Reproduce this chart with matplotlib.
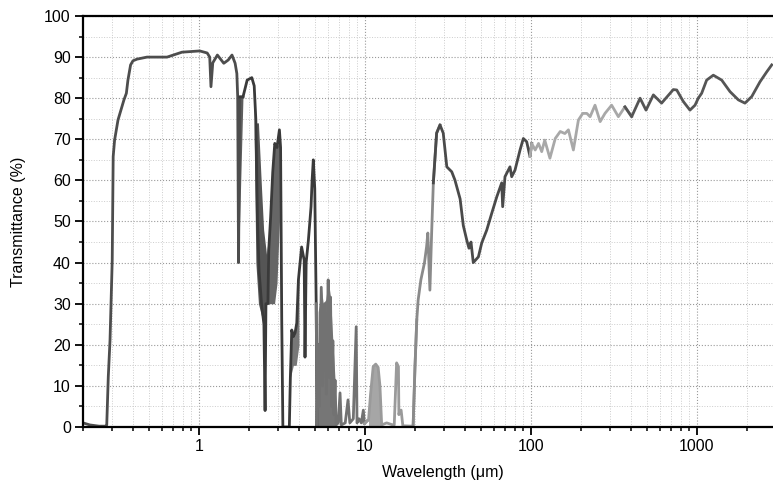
#!/usr/bin/env python3

import numpy as np
import matplotlib
matplotlib.use('Agg')
import matplotlib.pyplot as plt
from matplotlib.ticker import FixedLocator, LogLocator, MultipleLocator, NullFormatter

plt.rcParams['font.family'] = ['Liberation Sans', 'DejaVu Sans']

wavelength = [
    0.200, 0.220, 0.250, 0.275, 0.278, 0.284, 0.291, 0.300, 0.304, 0.310,
    0.325, 0.353, 0.365, 0.373, 0.387, 0.400, 0.423, 0.486, 0.642, 0.790,
    1.01, 1.12, 1.16, 1.18, 1.21, 1.29, 1.41, 1.50, 1.58, 1.65,
    1.69, 1.71, 1.73, 1.76, 1.84, 1.95, 2.08, 2.15, 2.20, 2.25,
    2.30, 2.38, 2.46, 2.50, 2.53, 2.60, 2.63, 2.70, 2.78, 2.86,
    2.95, 3.05, 3.10, 3.15, 3.20, 3.50, 3.55, 3.62, 3.70, 3.79,
    3.88, 3.97, 4.15, 4.30, 4.35, 4.42, 4.56, 4.73, 4.80, 4.88,
    4.98, 5.08, 5.14, 5.22, 5.30, 5.45, 5.55, 5.70, 5.85, 6.00,
    6.10, 6.20, 6.30, 6.40, 6.50, 6.60, 6.70, 6.90, 7.07, 7.20,
    7.60, 7.90, 8.10, 8.50, 8.85, 8.95, 9.20, 9.50, 9.77, 9.90,
    10.3, 10.5, 10.8, 11.2, 11.6, 12.0, 12.3, 12.6, 13.5, 14.7,
    15.0, 15.5, 15.9, 16.0, 16.2, 16.5, 16.9, 19.2, 19.5, 20.0,
    20.5, 20.9, 21.7, 22.8, 23.5, 23.9, 24.6, 25.2, 25.8, 27.0,
    28.3, 29.6, 31.1, 33.3, 34.8, 37.4, 39.1, 41.0, 42.3, 43.5,
    44.9, 48.2, 50.5, 54.1, 58.0, 62.2, 66.6, 67.5, 69.7, 74.7,
    76.5, 80.1, 85.9, 89.9, 94.2, 98.6, 101, 106, 111, 116,
    121, 130, 140, 150, 160, 168, 180, 193, 205, 217,
    227, 243, 261, 279, 306, 336, 368, 404, 454, 493,
    546, 612, 720, 755, 827, 907, 973, 1018, 1067, 1143,
    1254, 1409, 1581, 1774, 1945, 2137, 2397, 2630, 2820,
]
transmittance = [
    1.0, 0.5, 0.2, 0.2, 0.5, 12.2, 21.2, 40.6, 65.8, 69.8,
    74.7, 79.6, 81.2, 84.4, 88.1, 89.1, 89.5, 90.0, 90.0, 91.2,
    91.5, 91.0, 90.0, 82.8, 88.6, 90.5, 88.5, 89.3, 90.5, 88.5,
    86.0, 80.3, 40.0, 80.3, 80.3, 84.4, 85.0, 83.0, 74.7, 50.0,
    38.0, 30.0, 25.0, 4.0, 30.0, 30.0, 43.0, 51.0, 62.0, 69.0,
    68.0, 72.3, 68.0, 26.0, 0.0, 0.0, 12.0, 23.6, 22.0, 22.9,
    25.3, 35.8, 43.8, 40.6, 17.0, 40.0, 45.5, 53.6, 60.0, 65.0,
    58.0, 30.0, 0.0, 20.0, 5.0, 34.0, 10.0, 30.0, 8.0, 35.8,
    12.0, 31.6, 5.0, 21.0, 3.0, 11.4, 0.5, 1.0, 8.3, 0.5,
    1.0, 6.6, 1.0, 2.0, 24.4, 1.0, 2.0, 1.0, 4.1, 0.8,
    1.5, 1.7, 8.0, 14.7, 15.3, 14.5, 10.0, 0.5, 1.0, 0.5,
    0.5, 15.6, 14.7, 3.0, 4.0, 4.1, 0.3, 0.2, 0.5, 14.6,
    26.0, 30.9, 35.8, 39.9, 43.9, 47.2, 33.3, 47.2, 59.4, 71.5,
    73.5, 71.5, 63.3, 62.1, 60.1, 55.5, 49.0, 45.5, 43.5, 45.0,
    40.0, 41.4, 44.8, 47.9, 52.0, 56.0, 59.4, 53.6, 60.9, 63.3,
    60.9, 62.5, 67.4, 70.2, 69.4, 65.8, 69.0, 67.4, 69.0, 67.0,
    69.8, 65.4, 70.2, 71.9, 71.4, 72.3, 67.4, 74.7, 76.3, 76.3,
    75.5, 78.3, 74.3, 76.3, 78.3, 75.5, 77.9, 75.5, 80.0, 77.1,
    80.8, 78.8, 82.1, 82.0, 79.2, 77.1, 78.3, 80.0, 81.2, 84.4,
    85.6, 84.4, 81.6, 79.6, 78.8, 80.4, 84.0, 86.4, 88.1,
]

# bands where the trace oscillates too densely to resolve: (wl, low, high)
band_wl = [
    [1.69, 1.73, 1.84],
    [2.15, 2.20, 2.28, 2.38, 2.45, 2.55],
    [2.55, 2.65, 2.75, 2.85, 2.95, 3.05],
    [3.55, 3.70, 3.85, 4.00],
    [5.14, 5.22, 5.35, 5.45, 5.60, 5.80, 6.00, 6.20, 6.40, 6.60, 6.70],
    [10.5, 10.8, 11.2, 11.6, 12.0, 12.3, 12.6],
]
band_low = [
    [80.3, 40.0, 80.3],
    [70, 40, 30, 27, 25, 30],
    [30, 30, 30, 30, 35, 50],
    [12, 15, 15, 20],
    [0] * 11,
    [0] * 7,
]
band_high = [
    [80.3, 80.3, 80.3],
    [80, 74, 74, 58, 48, 42],
    [42, 48, 60, 68, 68, 70],
    [23.6, 22, 25, 38],
    [0, 28, 31, 34, 30, 31, 35.8, 31.6, 21, 11.4, 0],
    [1.7, 8, 14.7, 15.3, 14.5, 10, 0.5],
]
band_colors = ['#5e5e5e', '#555555', '#666666', '#777777', '#767676', '#a6a6a6']

# grey level of the scanned trace changes along the spectrum
segments = [(0.2, 1.8), (1.8, 5.14), (5.14, 10), (10, 20), (20, 27), (27, 100), (100, 400), (400, 3000)]
seg_colors = ['#4d4d4d', '#3a3a3a', '#727272', '#9a9a9a', '#8a8a8a', '#4a4a4a', '#a8a8a8', '#555555']

wl = np.array(wavelength)
tr = np.array(transmittance)

fig = plt.figure(figsize=(7.73, 4.97), dpi=100)
ax = fig.add_axes([83 / 773, 1 - 427 / 497, 690 / 773, 411 / 497])

for bw, bl, bh, c in zip(band_wl, band_low, band_high, band_colors):
    ax.fill_between(bw, bl, bh, color=c, lw=0)

for (lo, hi), c in zip(segments, seg_colors):
    idx = np.where((wl >= lo) & (wl <= hi))[0]
    i0 = max(idx[0] - 1, 0)
    i1 = min(idx[-1] + 2, len(wl))
    ax.plot(wl[i0:i1], tr[i0:i1], color=c, lw=2.0, solid_joinstyle='round')

ax.set_xscale('log')
ax.set_xlim(0.2, 2870)
ax.set_ylim(0, 100)

ax.xaxis.set_major_locator(FixedLocator([1, 10, 100, 1000]))
ax.set_xticklabels(['1', '10', '100', '1000'])
ax.xaxis.set_minor_locator(LogLocator(base=10, subs=np.arange(2, 10)))
ax.xaxis.set_minor_formatter(NullFormatter())
ax.yaxis.set_major_locator(MultipleLocator(10))
ax.yaxis.set_minor_locator(MultipleLocator(5))

ax.tick_params(which='major', direction='out', length=5.8, width=1.3, labelsize=11.5, pad=3)
ax.tick_params(which='minor', direction='out', length=3, width=1.1)

ax.grid(which='major', ls=':', color='#9a9a9a', lw=0.8)
ax.grid(which='minor', ls=':', color='#cccccc', lw=0.7)
ax.set_axisbelow(True)

ax.spines['right'].set_visible(False)
for s in ['top', 'left', 'bottom']:
    ax.spines[s].set_linewidth(1.6)

ax.set_ylabel('Transmittance (%)', fontsize=11.5)
ax.set_xlabel('Wavelength (μm)', fontsize=11.5)
ax.yaxis.set_label_coords(-0.082, 0.5)
ax.xaxis.set_label_coords(0.522, -0.092)

fig.savefig('out.png', dpi=100)
